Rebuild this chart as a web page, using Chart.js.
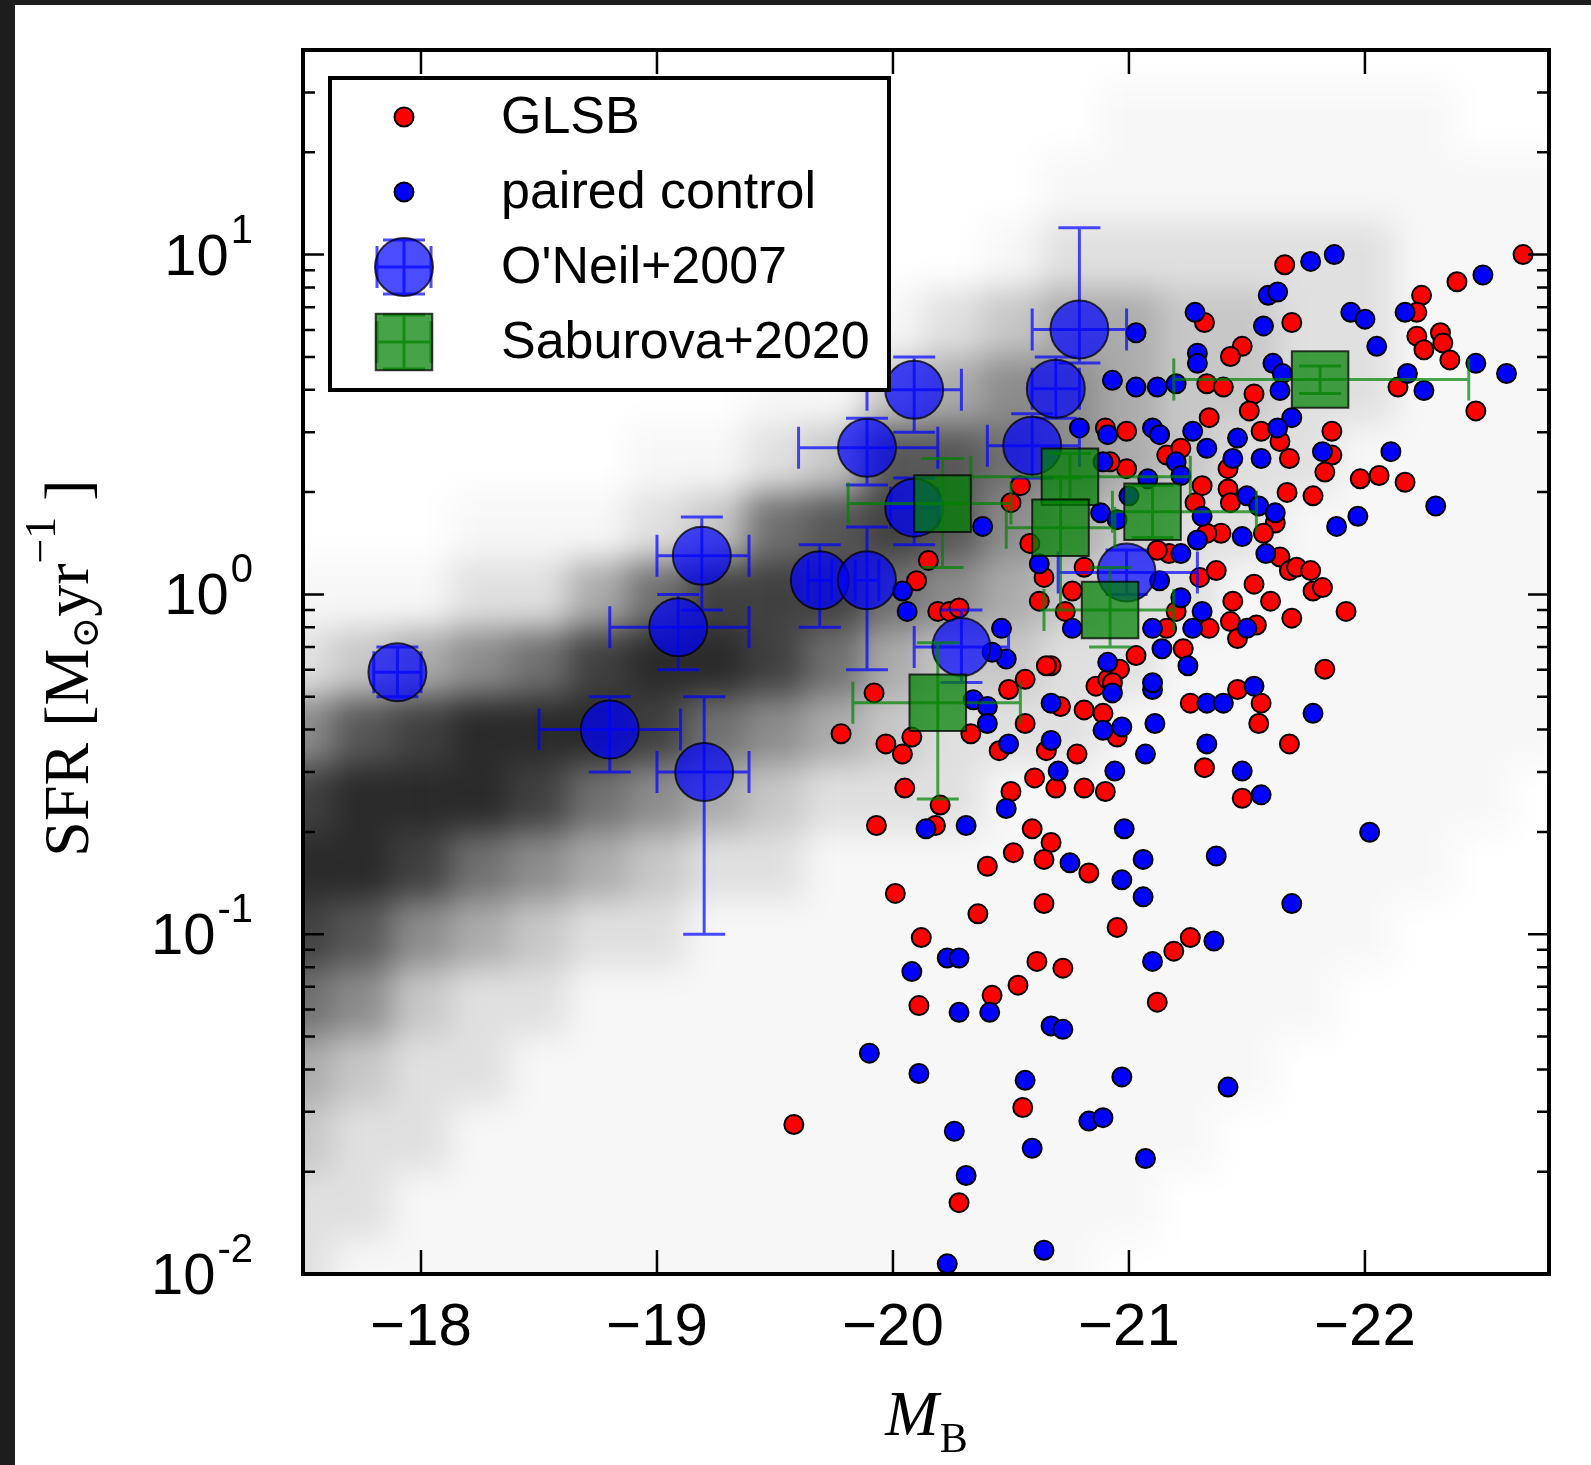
<!DOCTYPE html>
<html>
<head>
<meta charset="utf-8">
<script src="https://cdn.jsdelivr.net/npm/chart.js@4.4.0/dist/chart.umd.min.js"></script>
<style>
  html, body { margin: 0; padding: 0; background: #1d1d1d; }
  body { width: 1591px; height: 1465px; position: relative; overflow: hidden; }
  #sfr { position: absolute; left: 15px; top: 5px; background: #fff; }
</style>
</head>
<body>
<canvas id="sfr" width="1576" height="1460"></canvas>
<script>
// GLSB galaxies: absolute B magnitude and log10 SFR
const glsbMag = [
  -22.67, -21.66, -22.39, -22.24, -22.22, -21.69, -21.32, -22.22, -22.32, -22.25, -22.33, -22.36, -21.48, -21.43,
  -21.33, -21.40, -21.53, -21.51, -20.90, -20.99, -21.34, -21.56, -21.64, -21.16, -21.22, -21.68, -20.99, -20.92,
  -21.42, -20.54, -20.50, -21.31, -21.28, -21.42, -21.43, -21.67, -21.62, -21.57, -21.39, -21.33, -21.17, -21.12,
  -20.58, -20.64, -20.81, -21.30, -21.37, -21.64, -21.68, -21.53, -21.60, -21.69, -21.44, -21.20, -21.43, -21.34,
  -20.76, -20.62, -20.73,
  -22.14, -22.47, -21.86, -21.86, -21.83, -21.98, -22.06, -22.17, -21.78, -21.92, -21.83, -21.71, -21.77, -21.78, -21.82,
  -19.92, -20.49, -20.56, -20.67, -20.65, -20.71, -20.56, -20.33, -20.08, -19.97, -20.04, -20.45, -20.65, -20.81,
  -20.89, -20.95, -20.86, -20.91, -20.78, -20.60, -20.69, -20.81, -20.90, -20.05, -20.50, -20.20, -19.93, -20.18,
  -20.59, -20.67, -20.64, -20.51, -20.83, -20.40, -20.01, -20.64, -20.36, -20.95, -20.12, -21.32, -21.48, -21.68,
  -21.55, -21.56, -21.46, -21.26, -21.03, -20.96, -20.93, -21.23, -20.15, -20.10, -20.19, -20.24, -20.28, -21.46,
  -21.54, -21.16, -19.78,
  -20.61, -20.72, -20.53, -20.42, -21.19, -21.26, -20.11, -21.12, -20.55, -20.28, -19.58
];
const glsbLogSfr = [
  1.00, 0.97, 0.92, 0.88, 0.83, 0.80, 0.80, 0.76, 0.77, 0.72, 0.74, 0.69, 0.73, 0.70,
  0.62, 0.61, 0.59, 0.54, 0.49, 0.48, 0.52, 0.48, 0.45, 0.41, 0.43, 0.40, 0.37, 0.39,
  0.37, 0.32, 0.27, 0.32, 0.27, 0.31, 0.27, 0.30, 0.21, 0.18, 0.18, 0.18, 0.12, 0.13,
  0.15, 0.05, 0.08, 0.05, 0.07, 0.11, 0.07, 0.03, -0.02, -0.07, -0.02, -0.05, -0.08, -0.10,
  0.01, -0.02, -0.05,
  0.61, 0.54, 0.48, 0.41, 0.36, 0.34, 0.35, 0.33, 0.29, -0.05, -0.22, 0.08, 0.07, 0.01, 0.02,
  -0.29, -0.28, -0.25, -0.21, -0.21, -0.33, -0.38, -0.41, -0.42, -0.44, -0.47, -0.46, -0.46, -0.34,
  -0.35, -0.42, -0.27, -0.25, -0.47, -0.54, -0.57, -0.57, -0.58, -0.57, -0.58, -0.62, -0.68, -0.68,
  -0.69, -0.73, -0.78, -0.76, -0.82, -0.80, -0.88, -0.91, -0.94, -0.98, -1.01, -0.51, -0.60, -0.44,
  -0.38, -0.32, -0.28, -0.32, -0.18, -0.22, -0.26, -0.16, 0.10, 0.04, -0.05, -0.05, -0.04, -0.13,
  -0.09, -0.10, -0.41,
  -1.08, -1.10, -1.15, -1.18, -1.05, -1.01, -1.21, -1.20, -1.51, -1.79, -1.56
];

// paired control sample
const controlMag = [
  -21.87, -21.77, -22.50, -21.59, -21.63, -22.17, -21.94, -22.00, -21.57, -21.28, -21.03, -22.05, -22.47, -22.60,
  -21.29, -21.29, -21.61, -21.65,
  -20.93, -21.03, -21.12, -21.20, -21.64, -21.69, -20.79, -20.91, -21.10, -21.13, -21.27, -21.46, -21.63, -21.33,
  -21.20, -21.44, -21.56, -20.89, -21.00, -21.08, -21.22, -21.31, -21.50, -21.55, -21.62, -21.48, -21.29, -21.22,
  -20.88, -20.95, -20.62, -21.13, -21.58, -21.31, -21.22, -21.50, -21.27, -21.10, -20.76,
  -22.18, -22.25, -22.11, -21.82, -22.30, -21.97, -21.88, -21.78, -22.02,
  -20.46, -20.48, -20.42, -20.34, -20.40, -20.40, -20.49, -20.67, -20.67, -20.89, -20.97, -20.93, -21.10, -21.10,
  -21.11, -21.07, -20.70, -20.94, -20.48, -20.14, -20.31, -20.75, -20.98, -21.06, -20.97, -21.06, -21.37, -21.33,
  -21.48, -21.56, -21.53, -21.33, -21.40, -21.25, -21.14, -20.91, -21.69, -21.36, -21.10, -20.04, -20.06, -20.38,
  -20.23, -20.28, -20.08, -20.28, -20.41, -20.67, -20.72, -19.90, -20.11, -20.56, -20.97, -21.42, -20.83, -20.89,
  -20.26, -20.59, -21.07, -20.31, -20.64, -20.23
];
const controlLogSfr = [
  1.00, 0.98, 0.94, 0.88, 0.89, 0.83, 0.83, 0.81, 0.79, 0.83, 0.77, 0.73, 0.68, 0.65,
  0.71, 0.68, 0.68, 0.65,
  0.63, 0.61, 0.61, 0.62, 0.60, 0.52, 0.49, 0.47, 0.49, 0.47, 0.48, 0.46, 0.49, 0.43,
  0.39, 0.40, 0.40, 0.39, 0.29, 0.34, 0.35, 0.23, 0.29, 0.26, 0.24, 0.17, 0.16, 0.12,
  0.24, 0.22, 0.09, 0.04, 0.12, -0.05, -0.01, -0.10, -0.10, -0.10, -0.10,
  0.65, 0.60, 0.42, 0.42, 0.26, 0.23, 0.20, -0.35, -0.70,
  -0.10, -0.19, -0.17, -0.31, -0.33, -0.38, -0.44, -0.32, -0.43, -0.40, -0.39, -0.29, -0.28, -0.26,
  -0.38, -0.47, -0.52, -0.52, -0.63, -0.69, -0.68, -0.79, -0.69, -0.78, -0.84, -0.89, -0.77, -0.44,
  -0.52, -0.59, -0.27, -0.32, -0.32, -0.21, -0.16, -0.20, -0.91, -1.02, -1.08, 0.01, -0.05, 0.20,
  -1.07, -1.07, -1.11, -1.23, -1.23, -1.27, -1.28, -1.35, -1.41, -1.43, -1.42, -1.45, -1.55, -1.54,
  -1.58, -1.63, -1.66, -1.71, -1.93, -1.97
];

// O'Neil+2007 with error bars (SFR in Msun/yr)
const oneilMag   = [-17.90, -19.19, -19.09, -18.80, -19.20, -19.69, -19.89, -19.89, -20.09, -20.09, -20.29, -20.59, -20.69, -20.79, -20.99];
const oneilSfr   = [0.59, 1.30, 0.80, 0.40, 0.30, 1.10, 1.10, 2.70, 4.00, 1.80, 0.70, 2.74, 4.03, 6.02, 1.16];
const oneilMagLo = [-17.80, -19.00, -18.80, -18.50, -19.00, -19.64, -19.84, -19.60, -19.89, -19.99, -20.09, -20.40, -20.59, -20.59, -20.70];
const oneilMagHi = [-18.00, -19.39, -19.39, -19.10, -19.39, -19.74, -19.94, -20.19, -20.29, -20.19, -20.49, -20.79, -20.79, -20.99, -21.29];
const oneilSfrLo = [0.50, 0.90, 0.60, 0.30, 0.10, 0.80, 0.60, 2.10, 3.00, 1.40, 0.55, 2.20, 3.30, 4.80, 1.00];
const oneilSfrHi = [0.70, 1.69, 1.00, 0.50, 0.50, 1.40, 1.58, 3.30, 5.00, 2.20, 0.90, 3.40, 5.00, 12.0, 1.35];

// Saburova+2020 with error bars
const saburovaMag   = [-20.21, -20.19, -20.75, -20.71, -21.10, -20.92, -21.81];
const saburovaSfr   = [1.85, 0.48, 2.22, 1.57, 1.75, 0.90, 4.29];
const saburovaMagLo = [-19.81, -19.83, -20.33, -20.48, -20.93, -20.64, -21.19];
const saburovaMagHi = [-20.50, -20.54, -21.26, -20.94, -21.54, -21.19, -22.44];
const saburovaSfrLo = [1.20, 0.25, 1.90, 0.90, 1.47, 0.70, 3.90];
const saburovaSfrHi = [2.51, 0.72, 2.60, 2.20, 2.09, 1.20, 4.70];

// grey background sample, estimated density per cell (0-9)
// columns in magnitude, each string runs up in log SFR from -2.0 to 1.6
const cloudMag = [-17.5, -17.75, -18.0, -18.25, -18.5, -18.75, -19.0, -19.25, -19.5, -19.75, -20.0,
                  -20.25, -20.5, -20.75, -21.0, -21.25, -21.5, -21.75, -22.0, -22.25, -22.5, -22.75];
const cloudLogSfr = [-2.0, -1.8, -1.6, -1.4, -1.2, -1.0, -0.8, -0.6, -0.4, -0.2, 0.0, 0.2, 0.4, 0.6, 0.8, 1.0, 1.2, 1.4, 1.6];
const cloudLevels = [
  '2234689852100000000', '1223579973100000000', '1122358984100000000', '1112246995210000000',
  '1111235896210000000', '1111124698410000000', '1111123589621000000', '1111112469831000000',
  '1111112358862100000', '1111111246873100000', '1111111234687310000', '1111111223577420000',
  '1111111123456531000', '1111111122345542100', '0111111112234442110', '0011111111223332110',
  '0001111111122332110', '0000111111112222110', '0000011111111222110', '0000001111111111110',
  '0000000111111111100', '0000000011111111100'
];
const cloudAlpha = [0, 0.03, 0.12, 0.22, 0.33, 0.45, 0.56, 0.66, 0.75, 0.84];

const xTicks = [-18, -19, -20, -21, -22];
const yTickExps = [-2, -1, 0, 1];

const pts = (xs, ys) => xs.map((v, i) => ({ x: v, y: ys[i] }));
const ptsLog = (xs, ys) => xs.map((v, i) => ({ x: v, y: Math.pow(10, ys[i]) }));

const cloudPlugin = {
  id: 'cloud',
  beforeDatasetsDraw(chart) {
    const { ctx, chartArea: a, scales: { x, y } } = chart;
    const off = document.createElement('canvas');
    off.width = chart.width; off.height = chart.height;
    const oc = off.getContext('2d');
    cloudMag.forEach((m, i) => {
      for (let j = 0; j < cloudLogSfr.length; j++) {
        const lv = +cloudLevels[i][j];
        if (!lv) continue;
        const xa = x.getPixelForValue(m + 0.125), xb = x.getPixelForValue(m - 0.125);
        const ya = y.getPixelForValue(Math.pow(10, cloudLogSfr[j] + 0.1));
        const yb = y.getPixelForValue(Math.pow(10, cloudLogSfr[j] - 0.1));
        oc.fillStyle = 'rgba(0,0,0,' + cloudAlpha[lv] + ')';
        oc.fillRect(Math.min(xa, xb), ya, Math.abs(xb - xa), yb - ya);
      }
    });
    ctx.save();
    ctx.beginPath();
    ctx.rect(a.left, a.top, a.right - a.left, a.bottom - a.top);
    ctx.clip();
    ctx.filter = 'blur(16px)';
    ctx.drawImage(off, 0, 0);
    ctx.restore();
  }
};

const errorBarPlugin = {
  id: 'errorBars',
  beforeDatasetDraw(chart, args) {
    const ds = chart.data.datasets[args.index];
    if (!ds.errorBars) return;
    const { ctx, scales: { x, y } } = chart;
    const e = ds.errorBars, cap = 21;
    ctx.save();
    ctx.strokeStyle = e.color;
    ctx.lineWidth = 3;
    ctx.beginPath();
    ds.data.forEach((p, i) => {
      const px = x.getPixelForValue(p.x), py = y.getPixelForValue(p.y);
      const x0 = x.getPixelForValue(e.xlo[i]), x1 = x.getPixelForValue(e.xhi[i]);
      const y0 = y.getPixelForValue(e.ylo[i]), y1 = y.getPixelForValue(e.yhi[i]);
      ctx.moveTo(x0, py); ctx.lineTo(x1, py);
      ctx.moveTo(px, y0); ctx.lineTo(px, y1);
      [x0, x1].forEach(cx => { ctx.moveTo(cx, py - cap); ctx.lineTo(cx, py + cap); });
      [y0, y1].forEach(cy => { ctx.moveTo(px - cap, cy); ctx.lineTo(px + cap, cy); });
    });
    ctx.stroke();
    ctx.restore();
  }
};

function drawMarker(ctx, ds, cx, cy) {
  if (ds.errorBars) {
    ctx.strokeStyle = ds.errorBars.color;
    ctx.lineWidth = 3;
    ctx.beginPath();
    ctx.moveTo(cx - 27, cy); ctx.lineTo(cx + 27, cy);
    ctx.moveTo(cx, cy - 27); ctx.lineTo(cx, cy + 27);
    [-27, 27].forEach(d => {
      ctx.moveTo(cx + d, cy - 21); ctx.lineTo(cx + d, cy + 21);
      ctx.moveTo(cx - 21, cy + d); ctx.lineTo(cx + 21, cy + d);
    });
    ctx.stroke();
  }
  ctx.fillStyle = ds.backgroundColor;
  ctx.strokeStyle = ds.borderColor;
  ctx.lineWidth = ds.borderWidth;
  ctx.beginPath();
  if (ds.pointStyle === 'rect') {
    const s = Math.SQRT1_2 * ds.pointRadius;
    ctx.rect(cx - s, cy - s, 2 * s, 2 * s);
  } else {
    ctx.arc(cx, cy, ds.pointRadius, 0, Math.PI * 2);
  }
  ctx.fill();
  ctx.stroke();
}

const framePlugin = {
  id: 'frame',
  afterDraw(chart) {
    const { ctx, chartArea: a, scales: { x, y } } = chart;
    ctx.save();
    // ticks on all four sides, pointing inwards
    ctx.strokeStyle = '#000';
    ctx.lineWidth = 2.5;
    ctx.beginPath();
    xTicks.forEach(v => {
      const px = x.getPixelForValue(v);
      ctx.moveTo(px, a.bottom); ctx.lineTo(px, a.bottom - 24);
      ctx.moveTo(px, a.top); ctx.lineTo(px, a.top + 24);
    });
    yTickExps.forEach(e => {
      for (let k = 1; k < 10; k++) {
        const v = k * Math.pow(10, e);
        if (v > y.max) break;
        const py = y.getPixelForValue(v);
        const len = k === 1 ? 21 : 12;
        ctx.moveTo(a.left, py); ctx.lineTo(a.left + len, py);
        ctx.moveTo(a.right, py); ctx.lineTo(a.right - len, py);
      }
    });
    ctx.stroke();
    ctx.lineWidth = 4;
    ctx.strokeRect(a.left, a.top, a.right - a.left, a.bottom - a.top);

    // tick labels
    ctx.fillStyle = '#000';
    ctx.font = '60px "Liberation Sans", Arial, sans-serif';
    ctx.textAlign = 'center';
    ctx.textBaseline = 'alphabetic';
    xTicks.forEach(v => {
      ctx.fillText('\u2212' + Math.abs(v), x.getPixelForValue(v), a.bottom + 71);
    });
    ctx.textAlign = 'left';
    yTickExps.forEach(e => {
      const py = y.getPixelForValue(Math.pow(10, e));
      const ex = String(e);
      ctx.font = '40px "Liberation Sans", Arial, sans-serif';
      const we = ctx.measureText(ex).width;
      ctx.font = '58px "Liberation Sans", Arial, sans-serif';
      const wb = ctx.measureText('10').width;
      const right = a.left - 50;
      ctx.fillText('10', right - we - wb - 2, py + 20);
      ctx.font = '40px "Liberation Sans", Arial, sans-serif';
      ctx.fillText(ex, right - we, py - 12);
    });

    // x title: M_B
    const cxm = (a.left + a.right) / 2;
    ctx.font = 'italic 64px "Liberation Serif", "DejaVu Serif", serif';
    const wm = ctx.measureText('M').width;
    ctx.font = '42px "Liberation Serif", "DejaVu Serif", serif';
    const wsub = ctx.measureText('B').width;
    const startX = cxm - (wm + wsub) / 2;
    ctx.font = 'italic 64px "Liberation Serif", "DejaVu Serif", serif';
    ctx.fillText('M', startX, a.bottom + 161);
    ctx.font = '42px "Liberation Serif", "DejaVu Serif", serif';
    ctx.fillText('B', startX + wm + 1, a.bottom + 178);

    // y title: SFR [M_sun yr^-1]
    const parts = [
      { t: 'SFR [M', f: '64px "Liberation Serif", "DejaVu Serif", serif', dy: 0 },
      { t: '\u2299', f: '38px "DejaVu Serif", serif', dy: 10 },
      { t: 'yr', f: '64px "Liberation Serif", "DejaVu Serif", serif', dy: 0 },
      { t: '\u22121', f: '44px "Liberation Serif", "DejaVu Serif", serif', dy: -33 },
      { t: ' ]', f: '64px "Liberation Serif", "DejaVu Serif", serif', dy: 0 }
    ];
    let total = 0;
    parts.forEach(p => { ctx.font = p.f; p.w = ctx.measureText(p.t).width; total += p.w; });
    ctx.save();
    ctx.translate(73, (a.top + a.bottom) / 2 + 6);
    ctx.rotate(-Math.PI / 2);
    let px = -total / 2;
    parts.forEach(p => { ctx.font = p.f; ctx.fillText(p.t, px, p.dy); px += p.w; });
    ctx.restore();

    // legend box
    const lx = a.left + 27, ly = a.top + 28, lw = 559, lh = 312;
    ctx.fillStyle = '#fff';
    ctx.fillRect(lx, ly, lw, lh);
    ctx.strokeStyle = '#000';
    ctx.lineWidth = 4;
    ctx.strokeRect(lx, ly, lw, lh);
    chart.data.datasets.forEach((ds, i) => {
      const rowY = ly + 39 + i * 75;
      drawMarker(ctx, ds, lx + 74, rowY);
      ctx.fillStyle = '#000';
      ctx.font = '52px "Liberation Sans", Arial, sans-serif';
      ctx.textAlign = 'left';
      ctx.textBaseline = 'middle';
      ctx.fillText(ds.label, lx + 171, rowY + 2);
    });
    ctx.restore();
  }
};

new Chart(document.getElementById('sfr'), {
  type: 'scatter',
  data: {
    datasets: [
      {
        label: 'GLSB',
        data: ptsLog(glsbMag, glsbLogSfr),
        backgroundColor: '#ff0000', borderColor: '#000000', borderWidth: 2,
        pointRadius: 9.5, order: 4
      },
      {
        label: 'paired control',
        data: ptsLog(controlMag, controlLogSfr),
        backgroundColor: '#0000ff', borderColor: '#000000', borderWidth: 2,
        pointRadius: 9.5, order: 3
      },
      {
        label: "O'Neil+2007",
        data: pts(oneilMag, oneilSfr),
        backgroundColor: 'rgba(0,0,255,0.7)', borderColor: 'rgba(0,0,0,0.75)', borderWidth: 2,
        pointRadius: 29, order: 2,
        errorBars: { xlo: oneilMagLo, xhi: oneilMagHi, ylo: oneilSfrLo, yhi: oneilSfrHi, color: 'rgba(0,0,255,0.7)' }
      },
      {
        label: 'Saburova+2020',
        data: pts(saburovaMag, saburovaSfr),
        backgroundColor: 'rgba(0,128,0,0.72)', borderColor: 'rgba(0,0,0,0.75)', borderWidth: 2,
        pointStyle: 'rect', pointRadius: 40, order: 1,
        errorBars: { xlo: saburovaMagLo, xhi: saburovaMagHi, ylo: saburovaSfrLo, yhi: saburovaSfrHi, color: 'rgba(0,128,0,0.7)' }
      }
    ]
  },
  options: {
    responsive: false,
    animation: false,
    devicePixelRatio: 1,
    layout: { padding: { left: 288, top: 45, right: 41, bottom: 191 } },
    scales: {
      x: { type: 'linear', reverse: true, min: -22.78, max: -17.5, display: false },
      y: { type: 'logarithmic', min: 0.01, max: 40, display: false }
    },
    plugins: { legend: { display: false }, tooltip: { enabled: false } },
    elements: { point: { hoverRadius: 0 } }
  },
  plugins: [cloudPlugin, errorBarPlugin, framePlugin]
});
</script>
</body>
</html>
